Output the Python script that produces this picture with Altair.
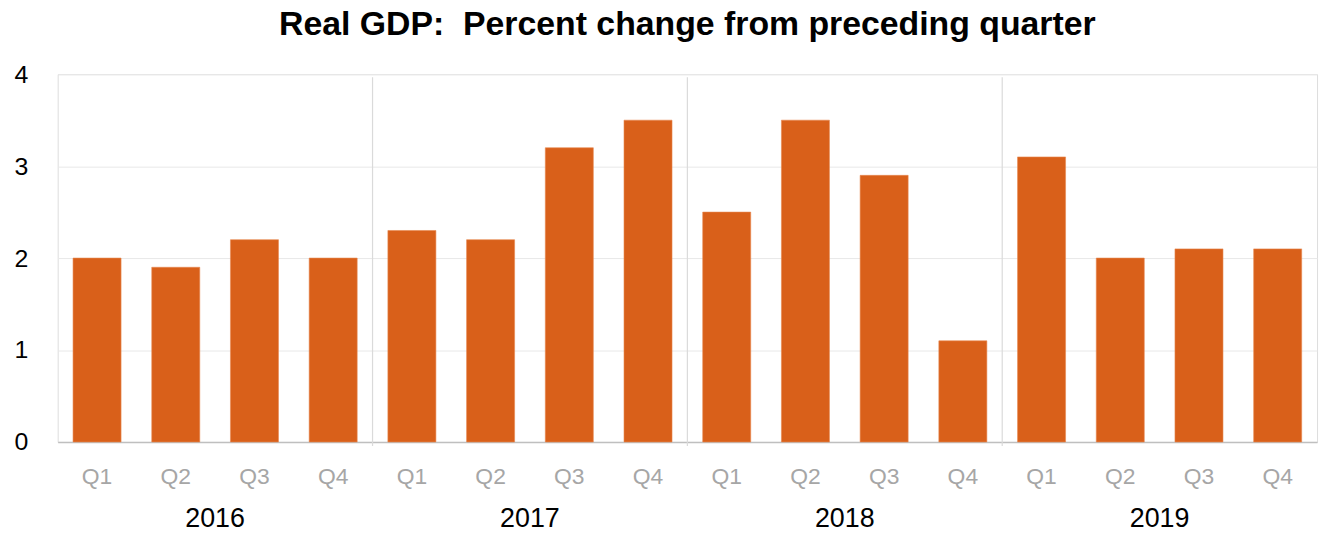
import altair as alt
import pandas as pd

years = ["2016", "2017", "2018", "2019"]
quarters = ["Q1", "Q2", "Q3", "Q4"]
values = [2.0, 1.9, 2.2, 2.0,
          2.3, 2.2, 3.2, 3.5,
          2.5, 3.5, 2.9, 1.1,
          3.1, 2.0, 2.1, 2.1]

rows = []
i = 0
for y in years:
    for q in quarters:
        rows.append({"idx": i, "year": y, "quarter": q, "value": values[i]})
        i += 1
df = pd.DataFrame(rows)

FONT = "Liberation Sans"
BAR = "#D9601A"
W, H = 1267, 370

xs = alt.Scale(domain=[0, 16], nice=False, zero=False)
ys = alt.Scale(domain=[0, 4], nice=False)

base = alt.Chart(df)

bars = base.transform_calculate(
    x0="datum.idx + 0.195", x1="datum.idx + 0.805"
).mark_bar(color=BAR, stroke="#E8874F", strokeWidth=0.6).encode(
    x=alt.X("x0:Q", scale=xs, axis=alt.Axis(labels=False, ticks=False, grid=False, domain=True,
                                            domainColor="#BFBFBF", domainWidth=1.5, title=None)),
    x2="x1:Q",
    y=alt.Y("value:Q", scale=ys, axis=alt.Axis(values=[0, 1, 2, 3, 4], ticks=False, domain=False,
                                               gridColor="#E8E8E8", gridWidth=1,
                                               labelFont=FONT, labelFontSize=25, labelColor="#000000",
                                               labelPadding=30, title=None)),
    y2=alt.datum(0),
)

seps = base.transform_filter("datum.quarter == 'Q1' && datum.idx > 0").mark_rule(
    color="#DADADA", strokeWidth=1.2
).encode(
    x=alt.X("idx:Q", scale=xs),
    y=alt.value(3),
    y2=alt.value(374),
)

qlabels = base.transform_calculate(xc="datum.idx + 0.5").mark_text(
    font=FONT, fontSize=23, color="#A6A6A6", baseline="middle"
).encode(
    x=alt.X("xc:Q", scale=xs),
    y=alt.value(405),
    text="quarter:N",
)

ylabels = base.transform_calculate(xc="datum.idx + 0.5").transform_aggregate(
    xm="mean(xc)", groupby=["year"]
).mark_text(font=FONT, fontSize=27, color="#000000", baseline="middle").encode(
    x=alt.X("xm:Q", scale=xs),
    y=alt.value(448),
    text="year:N",
)

chart = alt.layer(bars, seps, qlabels, ylabels).properties(
    width=W, height=H,
    title=alt.TitleParams("Real GDP:\u00a0\u00a0Percent change from preceding quarter",
                          font=FONT, fontSize=34, fontWeight="bold", color="#000000",
                          anchor="middle", offset=20),
    autosize=alt.AutoSizeParams(type="none"),
    padding={"left": 50, "top": 65, "right": 7, "bottom": 90},
).configure_view(strokeWidth=0, stroke="transparent").configure(background="white")

chart.save("out.html", embed_options={"renderer": "svg", "actions": False})
